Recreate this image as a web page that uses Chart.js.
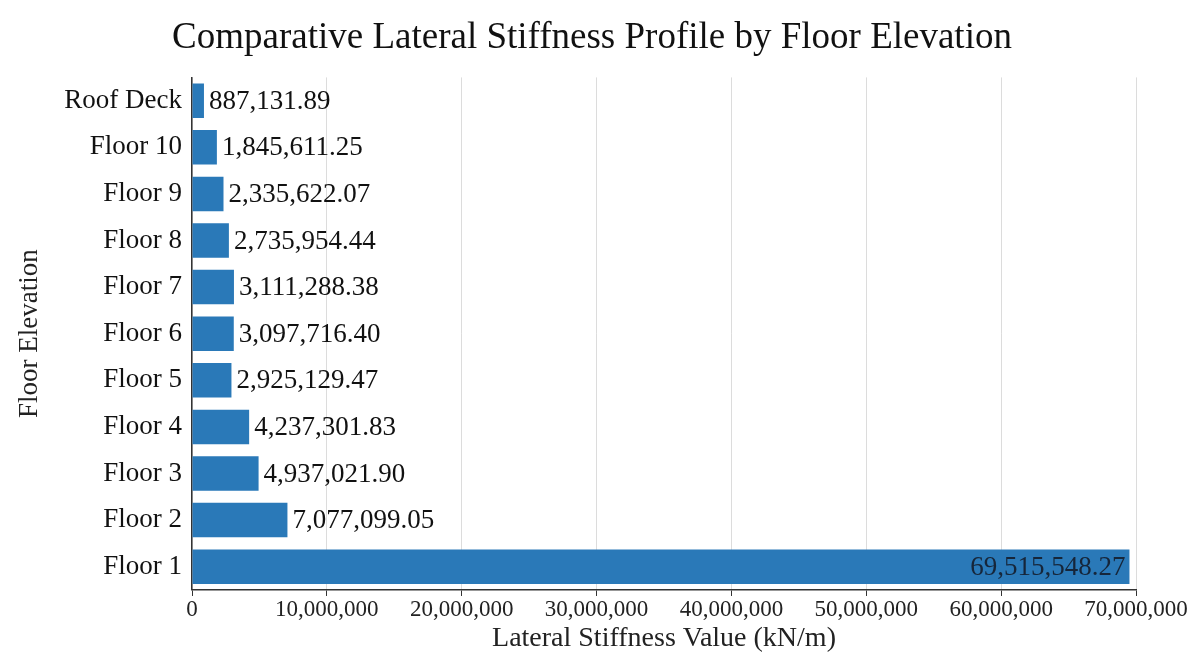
<!DOCTYPE html>
<html><head><meta charset="utf-8">
<script src="https://cdn.jsdelivr.net/npm/chart.js@4"></script>
<style>html,body{margin:0;padding:0;background:#fff}#wrap{width:1201px;height:655px}</style>
</head><body><div id="wrap"><canvas id="c"></canvas></div>
<script>
const categories = ["Roof Deck","Floor 10","Floor 9","Floor 8","Floor 7","Floor 6","Floor 5","Floor 4","Floor 3","Floor 2","Floor 1"];
const stiffness = [887131.89,1845611.25,2335622.07,2735954.44,3111288.38,3097716.40,2925129.47,4237301.83,4937021.90,7077099.05,69515548.27];
const xTicks = [0,10000000,20000000,30000000,40000000,50000000,60000000,70000000];
const FONT = "'Liberation Serif','Times New Roman',serif";
const fmt = v => v.toLocaleString('en-US',{minimumFractionDigits:2,maximumFractionDigits:2});

const labelPlugin = {
  id:'barLabels',
  afterDatasetsDraw(chart){
    const ctx = chart.ctx;
    const meta = chart.getDatasetMeta(0);
    ctx.save();
    ctx.font = "27px " + FONT;
    ctx.textBaseline = 'middle';
    meta.data.forEach((bar,i)=>{
      const txt = fmt(stiffness[i]);
      const w = ctx.measureText(txt).width;
      if (bar.x + 6 + w > chart.chartArea.right) {
        ctx.textAlign='right';
        ctx.fillStyle = '#16263a';
        ctx.fillText(txt, bar.x - 4, bar.y+1);
      } else {
        ctx.textAlign='left';
        ctx.fillStyle = '#111';
        ctx.fillText(txt, bar.x + 5, bar.y+1);
      }
    });
    ctx.restore();
  }
};

new Chart(document.getElementById('c'),{
  type:'bar',
  data:{labels:categories,datasets:[{data:stiffness,backgroundColor:'#2a79b8',borderWidth:0,barPercentage:0.74,categoryPercentage:1.0}]},
  options:{
    indexAxis:'y',responsive:true,maintainAspectRatio:false,animation:false,
    layout:{padding:{top:4,right:27,left:10,bottom:2}},
    plugins:{
      legend:{display:false},tooltip:{enabled:false},
      title:{display:true,text:'Comparative Lateral Stiffness Profile by Floor Elevation',color:'#111',font:{family:FONT,size:37,weight:'normal',lineHeight:1.2},padding:{top:12,bottom:17}}
    },
    scales:{
      x:{min:0,max:70000000,
        afterBuildTicks(s){s.ticks = xTicks.map(v=>({value:v}));},
        afterFit(s){ s.paddingRight = 65; },
        ticks:{color:'#222',font:{family:FONT,size:23,lineHeight:1.15},padding:1,maxRotation:0,autoSkip:false,callback:v=>v.toLocaleString('en-US')},
        grid:{color:'#dcdcdc',lineWidth:1,tickColor:'#333',tickLength:6,drawTicks:true},
        border:{color:'#333',width:1.5},
        title:{display:true,text:'Lateral Stiffness Value (kN/m)',color:'#222',font:{family:FONT,size:28,lineHeight:1.02},padding:{top:0,bottom:0}}
      },
      y:{
        afterFit(s){ s.width = 182; },
        ticks:{color:'#111',font:{family:FONT,size:27},padding:4},
        grid:{display:false,drawTicks:true,tickLength:6,tickColor:'#333'},
        border:{color:'#333',width:1.5},
        title:{display:true,text:'Floor Elevation',color:'#222',font:{family:FONT,size:27,lineHeight:1.2},padding:{top:4,bottom:0}}
      }
    }
  },
  plugins:[labelPlugin]
});
</script></body></html>
